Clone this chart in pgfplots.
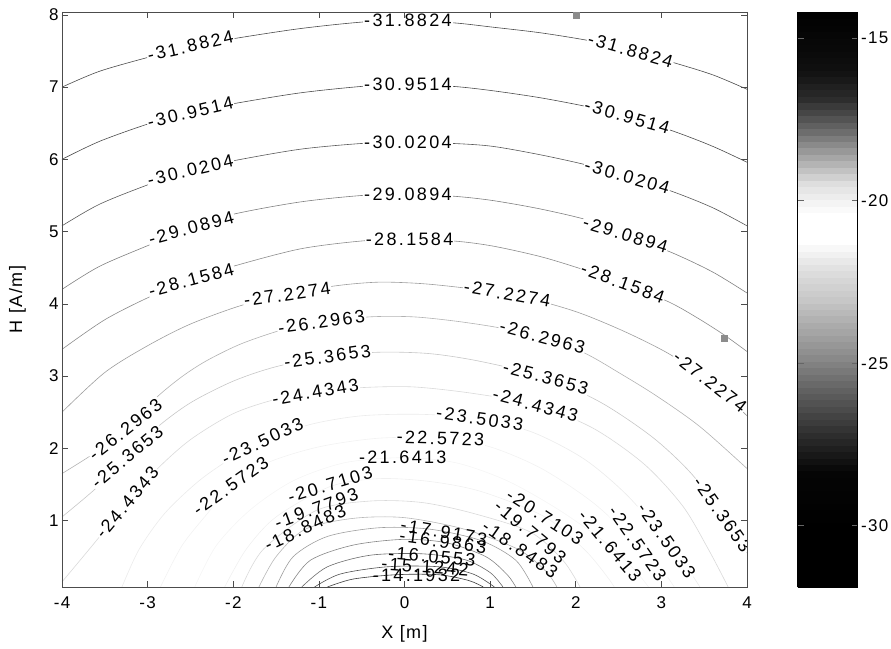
\documentclass[border=0pt]{standalone}
\usepackage{fontspec}
\setmainfont{Liberation Sans}[LetterSpace=8]
\newfontfamily\lblfont{Liberation Sans}[LetterSpace=13]
\usepackage{pgfplots}
\pgfplotsset{compat=1.18}
\pgfplotsset{
  /pgf/number format/assume math mode=true,
  every tick label/.append style={font=\fontsize{17}{17}\selectfont},
  cline/.style={line width=0.6pt, smooth, tension=0.5},
}
\tikzset{
  lbl/.style={font=\lblfont\fontsize{18}{18}\selectfont, inner sep=1pt},
  lblw/.style={lbl, fill=white},
}
\begin{document}
\begin{tikzpicture}
\begin{axis}[
    name=main,
    scale only axis, width=685pt, height=575pt,
    xmin=-4, xmax=4, ymin=0.08, ymax=8.04,
    xtick={-4,-3,...,4}, ytick={1,2,...,8},
    tick pos=both, tick align=inside, major tick length=6pt,
    axis on top,
    axis line style={black!70, line width=0.6pt},
    every tick/.style={black!70, line width=0.6pt},
    xticklabel style={yshift=-6pt},
    xlabel={X [m]}, ylabel={H [A/m]},
    xlabel style={at={(axis description cs:0.5,-0.082)}, anchor=center, font=\fontsize{18}{18}\selectfont},
    ylabel style={at={(axis description cs:-0.065,0.5)}, anchor=center, font=\fontsize{18}{18}\selectfont},
    % grey map of the scanned colour bar, 21 equal steps from -31.88 (bottom) to -14.19 (top)
    colormap={scan}{gray(0cm)=(0); gray(1cm)=(0); gray(2cm)=(0); gray(3cm)=(0.01);
      gray(4cm)=(0.02); gray(5cm)=(0.14); gray(6cm)=(0.27); gray(7cm)=(0.4);
      gray(8cm)=(0.54); gray(9cm)=(0.66); gray(10cm)=(0.78); gray(11cm)=(0.87);
      gray(12cm)=(1); gray(13cm)=(1); gray(14cm)=(0.88); gray(15cm)=(0.64);
      gray(16cm)=(0.39); gray(17cm)=(0.17); gray(18cm)=(0.06); gray(19cm)=(0.03); gray(20cm)=(0)},
    point meta min=-31.8824, point meta max=-14.1932,
    colorbar sampled,
    colorbar style={
      samples=90,
      at={(parent axis.north east)}, anchor=north west, xshift=42pt,
      scale only axis, width=60pt, height=575pt,
      ytick={-30,-25,-20,-15},
      ytick pos=both, yticklabel pos=right, ytick align=inside,
      major tick length=6pt,
      axis line style={black, line width=0.6pt},
      every tick/.style={black!60, line width=0.6pt},
    },
]

% contour lines, top to bottom
\addplot[cline, black!70] coordinates {(-4,7.0) (-3.56,7.22) (-2.97,7.42) (-2.5,7.56) (-2.0,7.67) (-1.22,7.81) (-0.5,7.9) (0,7.92) (0.57,7.89) (1.03,7.83) (1.6,7.75) (2.17,7.64) (2.64,7.51) (3.14,7.34) (3.6,7.17) (4,6.97)};
\addplot[cline, black!70] coordinates {(-4,6.0) (-3.56,6.25) (-2.97,6.5) (-2.5,6.65) (-2.0,6.77) (-1.22,6.92) (-0.5,7.01) (0,7.04) (0.57,7.01) (1.03,6.95) (1.6,6.85) (2.17,6.72) (2.6,6.59) (3.14,6.39) (3.6,6.18) (4,5.96)};
\addplot[cline, black!65] coordinates {(-4,5.08) (-3.56,5.38) (-2.97,5.66) (-2.5,5.85) (-2.0,5.98) (-1.22,6.14) (-0.5,6.22) (0,6.24) (0.57,6.22) (1.03,6.18) (1.6,6.06) (2.17,5.91) (2.6,5.76) (3.14,5.55) (3.6,5.33) (4,5.08)};
\addplot[cline, black!50] coordinates {(-4,4.2) (-3.56,4.52) (-2.97,4.82) (-2.5,5.05) (-2.0,5.24) (-1.22,5.41) (-0.5,5.5) (0,5.52) (0.57,5.49) (1.03,5.43) (1.6,5.31) (2.17,5.15) (2.58,4.96) (3.14,4.7) (3.6,4.44) (4,4.15)};
\addplot[cline, black!45] coordinates {(-4,3.37) (-3.5,3.78) (-2.97,4.1) (-2.5,4.33) (-2.0,4.52) (-1.22,4.76) (-0.5,4.87) (0,4.89) (0.57,4.87) (1.03,4.8) (1.6,4.65) (2.1,4.47) (2.55,4.29) (3.08,4.03) (3.4,3.82) (3.72,3.58) (4,3.34)};
\addplot[cline, black!38] coordinates {(-4,2.5) (-3.5,3.05) (-3.0,3.42) (-2.5,3.72) (-1.9,3.98) (-1.37,4.13) (-0.8,4.25) (-0.3,4.3) (0.2,4.28) (0.7,4.22) (1.2,4.14) (1.7,4.0) (2.1,3.85) (2.6,3.6) (3.1,3.3) (3.57,2.92) (4,2.45)};
\addplot[cline, black!30] coordinates {(-4,1.65) (-3.6,1.95) (-3.26,2.26) (-2.9,2.7) (-2.59,3.0) (-2.3,3.22) (-1.9,3.45) (-1.4,3.65) (-0.97,3.75) (-0.4,3.82) (0.1,3.82) (0.6,3.76) (1.1,3.67) (1.61,3.54) (2.1,3.32) (2.5,3.05) (2.95,2.72) (3.45,2.3) (4,1.72)};
\addplot[cline, black!22] coordinates {(-4,1.05) (-3.6,1.45) (-3.24,1.88) (-2.9,2.28) (-2.5,2.63) (-2.0,2.93) (-1.5,3.13) (-0.9,3.27) (-0.3,3.33) (0.3,3.31) (0.9,3.2) (1.65,2.98) (2.3,2.63) (2.9,2.15) (3.35,1.65) (3.71,1.08) (4,0.55)};
\addplot[cline, black!15] coordinates {(-4,0.15) (-3.6,0.72) (-3.24,1.25) (-2.9,1.7) (-2.5,2.12) (-2.0,2.48) (-1.5,2.68) (-1.04,2.78) (-0.5,2.84) (0.1,2.85) (0.8,2.76) (1.53,2.6) (2.2,2.28) (2.8,1.78) (3.25,1.2) (3.55,0.6) (3.78,0.08)};
\addplot[cline, black!8] coordinates {(-3.3,0.08) (-3.1,0.6) (-2.8,1.1) (-2.4,1.55) (-2.0,1.88) (-1.66,2.1) (-1.1,2.33) (-0.5,2.45) (0.2,2.47) (0.88,2.41) (1.5,2.22) (2.1,1.85) (2.6,1.35) (3.06,0.72) (3.3,0.35) (3.45,0.08)};
\addplot[cline, black!5] coordinates {(-2.85,0.08) (-2.6,0.65) (-2.3,1.1) (-2.03,1.48) (-1.6,1.8) (-1.0,2.02) (-0.3,2.14) (0.42,2.14) (1.0,2.02) (1.6,1.72) (2.2,1.25) (2.72,0.68) (3.0,0.33) (3.15,0.08)};
\addplot[cline, black!4] coordinates {(-2.45,0.08) (-2.2,0.65) (-1.8,1.15) (-1.3,1.55) (-0.7,1.8) (-0.02,1.87) (0.6,1.8) (1.2,1.55) (1.8,1.15) (2.4,0.65) (2.7,0.3) (2.85,0.08)};
\addplot[cline, black!6] coordinates {(-2.1,0.08) (-1.85,0.6) (-1.5,1.05) (-0.87,1.47) (-0.3,1.58) (0.3,1.54) (0.9,1.4) (1.64,1.05) (2.1,0.6) (2.35,0.25) (2.45,0.08)};
\addplot[cline, black!15] coordinates {(-1.9,0.08) (-1.65,0.6) (-1.03,1.14) (-0.4,1.27) (0.2,1.25) (0.8,1.1) (1.47,0.84) (1.85,0.45) (2.05,0.08)};
\addplot[cline, black!28] coordinates {(-1.7,0.08) (-1.5,0.5) (-1.16,0.88) (-0.6,1.03) (0,1.04) (0.7,0.88) (1.33,0.6) (1.65,0.3) (1.78,0.08)};
\addplot[cline, black!38] coordinates {(-1.5,0.08) (-1.3,0.5) (-0.9,0.78) (-0.3,0.9) (0.3,0.88) (0.9,0.72) (1.3,0.45) (1.5,0.08)};
\addplot[cline, black!48] coordinates {(-1.35,0.08) (-1.1,0.45) (-0.6,0.66) (0,0.74) (0.5,0.69) (0.95,0.5) (1.2,0.25) (1.3,0.08)};
\addplot[cline, black!58] coordinates {(-1.2,0.08) (-0.9,0.36) (-0.4,0.52) (0.2,0.54) (0.7,0.46) (1.0,0.28) (1.15,0.08)};
\addplot[cline, black!68] coordinates {(-1.05,0.08) (-0.75,0.26) (-0.2,0.36) (0.4,0.36) (0.8,0.26) (1.05,0.08)};
\addplot[cline, black!78] coordinates {(-0.9,0.08) (-0.6,0.19) (-0.1,0.25) (0.4,0.25) (0.75,0.17) (0.92,0.08)};

% two grey markers
\addplot[only marks, mark=square*, mark size=3pt, black!45] coordinates {(2.01,7.99) (3.73,3.53)};

% contour labels
\node[lblw, rotate=13] at (axis cs:-2.5,7.57) {-31.8824};
\node[lblw] at (axis cs:0.04,7.92) {-31.8824};
\node[lblw, rotate=-16] at (axis cs:2.64,7.51) {-31.8824};
\node[lblw, rotate=13] at (axis cs:-2.5,6.65) {-30.9514};
\node[lblw] at (axis cs:0.04,7.04) {-30.9514};
\node[lblw, rotate=-16] at (axis cs:2.6,6.59) {-30.9514};
\node[lblw, rotate=13] at (axis cs:-2.5,5.85) {-30.0204};
\node[lblw] at (axis cs:0.04,6.24) {-30.0204};
\node[lblw, rotate=-16] at (axis cs:2.6,5.76) {-30.0204};
\node[lblw, rotate=15] at (axis cs:-2.49,5.05) {-29.0894};
\node[lblw] at (axis cs:0.04,5.52) {-29.0894};
\node[lblw, rotate=-17] at (axis cs:2.58,4.96) {-29.0894};
\node[lblw, rotate=15] at (axis cs:-2.49,4.33) {-28.1584};
\node[lblw] at (axis cs:0.06,4.89) {-28.1584};
\node[lblw, rotate=-20] at (axis cs:2.55,4.29) {-28.1584};
\node[lblw, rotate=8] at (axis cs:-1.37,4.13) {-27.2274};
\node[lblw, rotate=-10] at (axis cs:1.2,4.14) {-27.2274};
\node[lblw, rotate=-38] at (axis cs:3.57,2.92) {-27.2274};
\node[lblw, rotate=38] at (axis cs:-3.26,2.26) {-26.2963};
\node[lblw, rotate=8] at (axis cs:-0.97,3.75) {-26.2963};
\node[lblw, rotate=-15] at (axis cs:1.61,3.54) {-26.2963};
\node[lblw, rotate=40] at (axis cs:-3.24,1.88) {-25.3653};
\node[lblw, rotate=8] at (axis cs:-0.9,3.27) {-25.3653};
\node[lblw, rotate=-15] at (axis cs:1.65,2.98) {-25.3653};
\node[lblw, rotate=-55] at (axis cs:3.71,1.08) {-25.3653};
\node[lblw, rotate=50] at (axis cs:-3.24,1.25) {-24.4343};
\node[lblw, rotate=10] at (axis cs:-1.04,2.78) {-24.4343};
\node[lblw, rotate=-15] at (axis cs:1.53,2.6) {-24.4343};
\node[lblw, rotate=25] at (axis cs:-1.66,2.1) {-23.5033};
\node[lblw, rotate=-8] at (axis cs:0.88,2.41) {-23.5033};
\node[lblw, rotate=-55] at (axis cs:3.06,0.72) {-23.5033};
\node[lblw, rotate=35] at (axis cs:-2.03,1.48) {-22.5723};
\node[lblw, rotate=-2] at (axis cs:0.42,2.14) {-22.5723};
\node[lblw, rotate=-55] at (axis cs:2.72,0.68) {-22.5723};
\node[lbl] at (axis cs:-0.02,1.87) {-21.6413};
\node[lbl, rotate=-50] at (axis cs:2.4,0.65) {-21.6413};
\node[lbl, rotate=17] at (axis cs:-0.87,1.5) {-20.7103};
\node[lbl, rotate=-33] at (axis cs:1.64,1.05) {-20.7103};
\node[lbl, rotate=20] at (axis cs:-1.03,1.17) {-19.7793};
\node[lbl, rotate=-40] at (axis cs:1.47,0.84) {-19.7793};
\node[lbl, rotate=25] at (axis cs:-1.16,0.9) {-18.8483};
\node[lbl, rotate=-35] at (axis cs:1.35,0.6) {-18.8483};
\node[lbl, rotate=-10] at (axis cs:0.46,0.84) {-17.9173};
\node[lbl, rotate=-8] at (axis cs:0.45,0.71) {-16.9863};
\node[lbl, rotate=-5] at (axis cs:0.32,0.5) {-16.0553};
\node[lbl, rotate=-4] at (axis cs:0.24,0.36) {-15.1242};
\node[lbl] at (axis cs:0.14,0.24) {-14.1932};
\end{axis}
\pgfresetboundingbox
\path[use as bounding box] ([xshift=-62pt,yshift=-61pt]main.south west) rectangle ([xshift=144pt,yshift=12pt]main.north east);
\end{tikzpicture}
\end{document}
